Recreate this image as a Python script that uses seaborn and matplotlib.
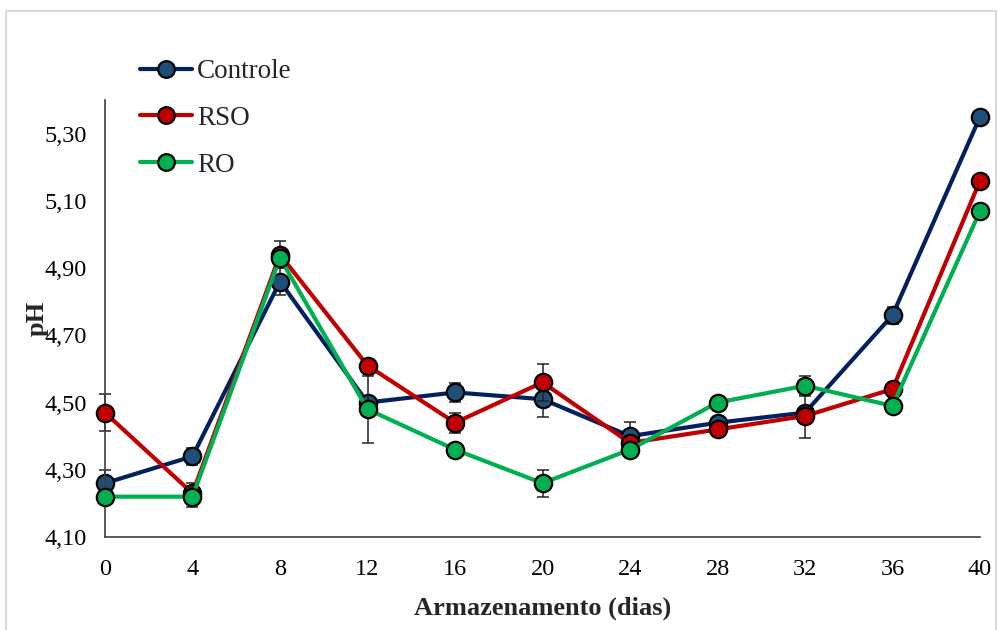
import matplotlib
matplotlib.use("Agg")
import matplotlib.pyplot as plt
from matplotlib.patches import Rectangle
from matplotlib.lines import Line2D
import seaborn as sns
import pandas as pd

# Storage time (days)
dias = [0, 4, 8, 12, 16, 20, 24, 28, 32, 36, 40]

# Mean pH per treatment
ph_controle = [4.26, 4.34, 4.86, 4.50, 4.53, 4.51, 4.40, 4.44, 4.47, 4.76, 5.35]
ph_rso = [4.47, 4.23, 4.94, 4.61, 4.44, 4.56, 4.38, 4.42, 4.46, 4.54, 5.16]
ph_ro = [4.22, 4.22, 4.93, 4.48, 4.36, 4.26, 4.36, 4.50, 4.55, 4.49, 5.07]

# Standard deviations
sd_controle = [0.04, 0.025, 0.04, 0.015, 0.028, 0.052, 0.042, 0.01, 0.01, 0.025, 0.01]
sd_rso = [0.055, 0.03, 0.04, 0.01, 0.03, 0.055, 0.01, 0.01, 0.065, 0.01, 0.01]
sd_ro = [0.01, 0.03, 0.02, 0.10, 0.01, 0.04, 0.01, 0.01, 0.03, 0.01, 0.01]

series_names = ["Controle", "RSO", "RO"]
y_ticks = [4.10, 4.30, 4.50, 4.70, 4.90, 5.10, 5.30]

sns.set_theme(style="white")
plt.rcParams["font.family"] = ["Liberation Serif", "DejaVu Serif"]

fig = plt.figure(figsize=(9.98, 6.30), dpi=100)
ax = fig.add_axes([0.1052, 0.1476, 0.8768, 0.6937])

# light frame around the whole chart area
fig.patches.append(Rectangle((0.006, -0.02), 0.992, 1.0025, transform=fig.transFigure,
                             fill=False, edgecolor="#d9d9d9", linewidth=1.5, zorder=0))

styles = [
    (series_names[0], ph_controle, sd_controle, "#002060", "#1f4e79"),
    (series_names[1], ph_rso, sd_rso, "#c00000", "#c00000"),
    (series_names[2], ph_ro, sd_ro, "#00b050", "#00b050"),
]

handles = []
for i, (name, vals, sd, lc, fc) in enumerate(styles):
    df = pd.DataFrame({"dias": dias, "pH": vals})
    eb = ax.errorbar(dias, vals, yerr=sd, fmt="none", ecolor="#222222", elinewidth=1.1,
                     capsize=4.5, capthick=1.1, zorder=1.5 + i)
    for art in eb.lines[1] + eb.lines[2]:
        art.set_clip_on(False)
    n_before = len(ax.lines)
    sns.lineplot(data=df, x="dias", y="pH", ax=ax, color=lc, linewidth=3,
                 marker="o", markersize=12.5, markerfacecolor=fc,
                 markeredgecolor="black", markeredgewidth=1.6,
                 zorder=2 + i, legend=False)
    for ln in ax.lines[n_before:]:
        ln.set_clip_on(False)
    handles.append(Line2D([0], [0], color=lc, linewidth=3, marker="o", markersize=12,
                          markerfacecolor=fc, markeredgecolor="black",
                          markeredgewidth=1.6, label=name))

ax.set_xlim(0, 40)
ax.set_ylim(4.10, 5.40)
ax.set_xticks(dias)
ax.set_xticklabels([str(d) for d in dias])
ax.set_yticks(y_ticks)
ax.set_yticklabels([f"{v:.2f}".replace(".", ",") for v in y_ticks])

for side in ["top", "right"]:
    ax.spines[side].set_visible(False)
for side in ["left", "bottom"]:
    ax.spines[side].set_color("#404040")
    ax.spines[side].set_linewidth(1.2)

ax.tick_params(axis="both", which="major", labelsize=17.5, colors="#404040",
               labelcolor="black", length=5, width=1.2, direction="out")
ax.tick_params(axis="y", pad=8)
ax.tick_params(axis="x", pad=11)

ax.set_xlabel("Armazenamento (dias)", fontsize=19, fontweight="bold", labelpad=12)
ax.set_ylabel("pH", fontsize=19, fontweight="bold", labelpad=-3)

fig.legend(handles=handles, loc="upper left", bbox_to_anchor=(0.1403, 0.906),
           frameon=False, fontsize=19.5, handlelength=1.92, handletextpad=0.18,
           labelspacing=0.8, borderpad=0, borderaxespad=0)

fig.savefig("out.png", dpi=100)
